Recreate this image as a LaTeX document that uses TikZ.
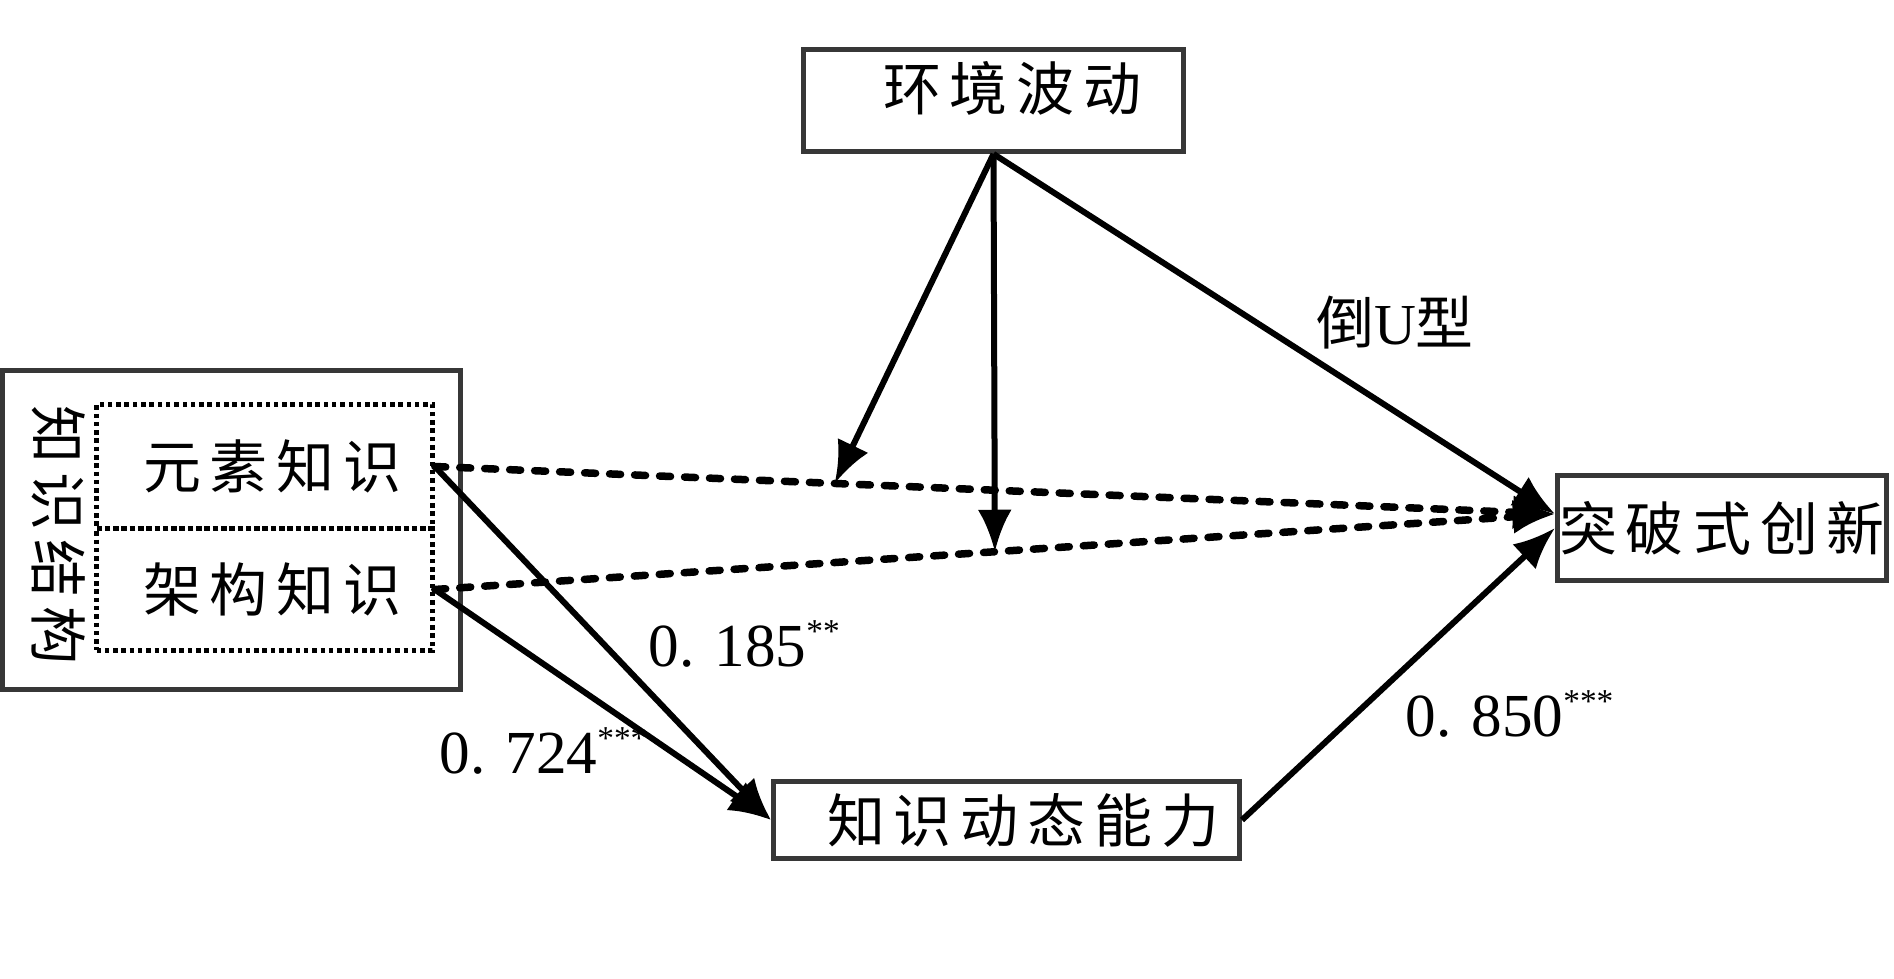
\documentclass[tikz,border=0pt]{standalone}
\usepackage{fontspec}
\setmainfont{Liberation Serif}
\newfontfamily\cjk[LetterSpace=15.5]{Noto Sans CJK SC}
\newfontfamily\cjkplain{Noto Sans CJK SC}
\usetikzlibrary{arrows.meta}
\definecolor{boxgray}{RGB}{55,55,55}
\newcommand{\coef}[2]{0.\hspace{0.2cm}#1\raisebox{0.24cm}{\fontsize{9.5}{10}\selectfont #2}}

\begin{document}
\begin{tikzpicture}[
box/.style={draw=boxgray, line width=0.05cm, inner sep=0pt, font=\cjk\fontsize{16.5}{16.5}\selectfont},
dotbox/.style={box, draw=black, line width=0.045cm, dash pattern=on 0.045cm off 0.038cm},
arr/.style={line width=0.06cm, -{Latex[length=0.42cm,width=0.34cm]}},
dsh/.style={arr, line width=0.075cm, dash pattern=on 0.11cm off 0.14cm, line cap=round},
coefnum/.style={anchor=base west, inner sep=0pt, font=\fontsize{17.4}{17.4}\selectfont}]
\useasboundingbox (0,0) rectangle (18.94,9.79);

%boxes
\node[box, minimum width=3.80cm, minimum height=1.02cm, text depth=0.29cm](env) at (9.935,8.785) {\hspace{0.38cm}环境波动};
\node[box, minimum width=4.66cm, minimum height=0.77cm](dyn) at (10.065,1.59) {\hspace{0.34cm}知识动态能力};
\node[box, minimum width=3.29cm, minimum height=1.05cm](innov) at (17.22,4.51) {突破式创新};
\node[box, minimum width=4.58cm, minimum height=3.19cm](ks) at (2.315,4.49) {};
\node[dotbox, minimum width=3.36cm, minimum height=1.24cm](elem) at (2.645,5.125) {\hspace{0.16cm}元素知识};
\node[dotbox, minimum width=3.36cm, minimum height=1.22cm](arch) at (2.645,3.895) {\hspace{0.16cm}架构知识};
\node[rotate=-90, inner sep=0pt, font=\cjk\fontsize{16.5}{16.5}\selectfont](kstext) at (0.59,4.44) {知识结构};
\coordinate (innovin) at ([yshift=0.14cm]innov.west);

%moderated paths
\draw[dsh] (elem.east) -- (innovin) coordinate[pos=0.357] (m1);
\draw[dsh] (arch.east) -- (innovin) coordinate[pos=0.5] (m2);

%arrows out of the environment box
\foreach \t in {m1,m2,innovin}
	\draw[arr] (env.south) -- (\t);

%mediation
\draw[arr] (elem.east) -- (dyn.west);
\draw[arr] (arch.east) -- (dyn.west);
\draw[arr] (dyn.east) -- (innov.west);

%labels
\node[font=\cjkplain\fontsize{16.5}{16.5}\selectfont](ushape) at (13.95,6.56) {倒{\rmfamily U}型};
\node[coefnum](c185) at (6.48,3.12) {\coef{185}{**}};
\node[coefnum](c724) at (4.39,2.05) {\coef{724}{***}};
\node[coefnum](c850) at (14.05,2.42) {\coef{850}{***}};
\end{tikzpicture}
\end{document}
